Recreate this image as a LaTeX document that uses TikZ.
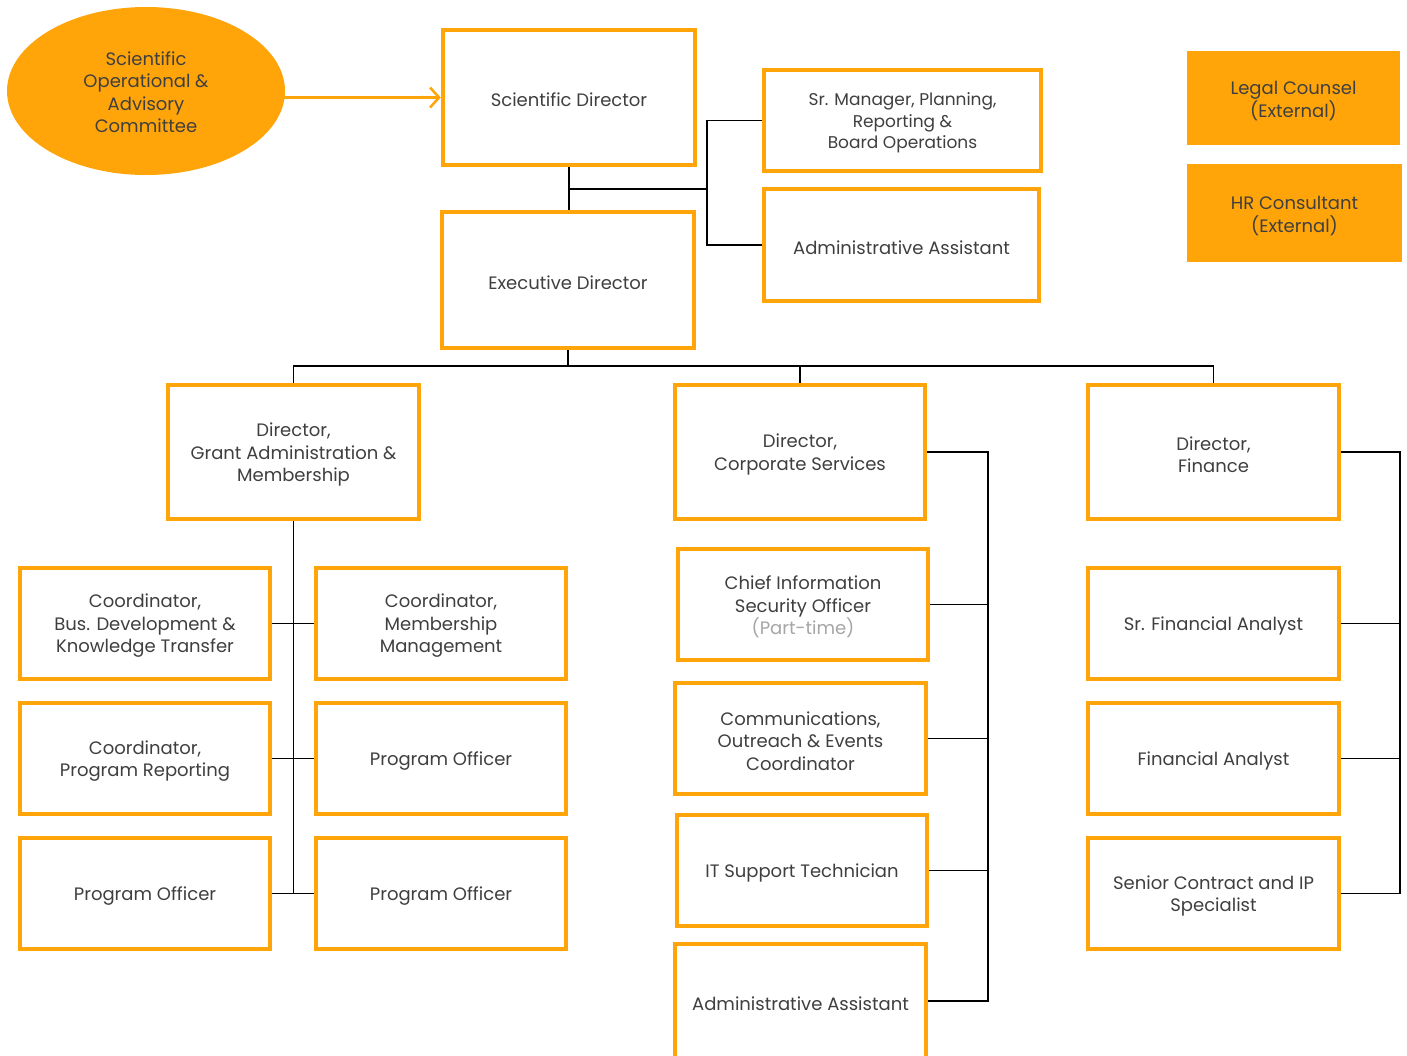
\documentclass[tikz,border=0pt]{standalone}
\usepackage{fontspec}
\setmainfont{Poppins}
\usetikzlibrary{arrows.meta,shapes.geometric}
\definecolor{org}{HTML}{FFA50A}
\definecolor{txt}{HTML}{3F3F3F}
\definecolor{ptgray}{HTML}{A6A6A6}
\tikzset{
  box/.style={draw=org, line width=4.5pt, fill=white, rectangle, inner sep=2pt},
  boxtext/.style={align=center, text=txt, font=\fontsize{18}{22.5}\selectfont, yshift=-2.5pt, inner sep=0pt},
  smalltext/.style={boxtext, font=\fontsize{17}{21.5}\selectfont},
  extbox/.style={fill=org, rectangle, inner sep=2pt},
  conn/.style={draw=black, line width=1.4pt},
}
\begin{document}
\begin{tikzpicture}[x=1pt,y=-1pt]
\useasboundingbox (0,0) rectangle (1407,1055);
\clip (0,0) rectangle (1407,1055);
% top
\node[ellipse, fill=org, minimum width=278, minimum height=168, inner sep=0pt,
  label={[boxtext, yshift=1.5pt]center:{Scientific\\Operational \&\\Advisory\\Committee}}] (soac) at (146,91) {};
\node[box, minimum width=252, minimum height=135, label={[boxtext]center:Scientific Director}] (sci) at (569,97.5) {};
\node[box, minimum width=252, minimum height=136, label={[boxtext]center:Executive Director}] (exec) at (568,280) {};
\node[box, minimum width=277, minimum height=101,
  label={[smalltext]center:{Sr. Manager, Planning,\\Reporting \&\\Board Operations}}] (srmgr) at (902.5,120.5) {};
\node[box, minimum width=275, minimum height=112, label={[boxtext]center:Administrative Assistant}] (admt) at (901.5,245) {};
\node[extbox, minimum width=213, minimum height=94, label={[boxtext, yshift=-0.5pt]center:{Legal Counsel\\(External)}}] (legal) at (1293.5,98) {};
\node[extbox, minimum width=215, minimum height=98, label={[boxtext, yshift=-0.5pt]center:{HR Consultant\\(External)}}] (hr) at (1294.5,213) {};
% directors
\node[box, minimum width=251, minimum height=134, label={[boxtext]center:{Director,\\Grant Administration \&\\Membership}}] (grant) at (293.5,452) {};
\node[box, minimum width=250, minimum height=134, label={[boxtext]center:{Director,\\Corporate Services}}] (corp) at (800,452) {};
\node[box, minimum width=251, minimum height=134, label={[boxtext]center:{Director,\\Finance}}] (fin) at (1213.5,452) {};
% grant column
\node[box, minimum width=250, minimum height=111, label={[boxtext]center:{Coordinator,\\Bus. Development \&\\Knowledge Transfer}}] (l1) at (145,623.5) {};
\node[box, minimum width=250, minimum height=111, label={[boxtext]center:{Coordinator,\\Membership\\Management}}] (r1) at (441,623.5) {};
\node[box, minimum width=250, minimum height=111, label={[boxtext]center:{Coordinator,\\Program Reporting}}] (l2) at (145,758.5) {};
\node[box, minimum width=250, minimum height=111, label={[boxtext]center:Program Officer}] (r2) at (441,758.5) {};
\node[box, minimum width=250, minimum height=111, label={[boxtext]center:Program Officer}] (l3) at (145,893.5) {};
\node[box, minimum width=250, minimum height=111, label={[boxtext]center:Program Officer}] (r3) at (441,893.5) {};
% corporate column
\node[box, minimum width=250, minimum height=111, label={[boxtext]center:{Chief Information\\Security Officer\\\textcolor{ptgray}{(Part-time)}}}] (ciso) at (803,604.5) {};
\node[box, minimum width=251, minimum height=111, label={[boxtext]center:{Communications,\\Outreach \& Events\\Coordinator}}] (comm) at (800.5,738.5) {};
\node[box, minimum width=250, minimum height=111, label={[boxtext]center:IT Support Technician}] (it) at (802,870.5) {};
\node[box, minimum width=251, minimum height=114, label={[boxtext]center:Administrative Assistant}] (admb) at (800.5,1001) {};
% finance column
\node[box, minimum width=251, minimum height=111, label={[boxtext]center:Sr. Financial Analyst}] (sfa) at (1213.5,623.5) {};
\node[box, minimum width=251, minimum height=111, label={[boxtext]center:Financial Analyst}] (fa) at (1213.5,758.5) {};
\node[box, minimum width=251, minimum height=111, label={[boxtext]center:{Senior Contract and IP\\Specialist}}] (sc) at (1213.5,893.5) {};
% coordinates
\coordinate (j1) at (707,189);
\coordinate (bus) at (570,366);
\coordinate (cbus) at (988,453);
\coordinate (fbus) at (1400,453);
% connectors
\draw[org, line width=2.5pt, -{Straight Barb[length=9pt,width=20pt]}] (soac.east |- sci.west) ++(-1,0) -- (sci.west);
\draw[conn] (sci.south) -- (sci.south |- exec.north);
\draw[conn] (sci.south |- j1) -- (j1);
\draw[conn] (srmgr.west) -| (j1) |- (admt.west);
\draw[conn] (exec.south) -- (exec.south |- bus);
\draw[conn] (grant.north) |- (fin.north |- bus) -- (fin.north);
\draw[conn] (corp.north) -- (corp.north |- bus);
\draw[conn] (grant.south) -- (grant.south |- l3.east);
\draw[conn] (l1.east) -- (r1.west);
\draw[conn] (l2.east) -- (r2.west);
\draw[conn] (l3.east) -- (r3.west);
\draw[conn] (corp.east) -| (cbus |- admb.east) -- (admb.east);
\draw[conn] (ciso.east) -- (ciso.east -| cbus);
\draw[conn] (comm.east) -- (comm.east -| cbus);
\draw[conn] (it.east) -- (it.east -| cbus);
\draw[conn] (fin.east) -| (fbus |- sc.east) -- (sc.east);
\draw[conn] (sfa.east) -- (sfa.east -| fbus);
\draw[conn] (fa.east) -- (fa.east -| fbus);
\end{tikzpicture}
\end{document}
